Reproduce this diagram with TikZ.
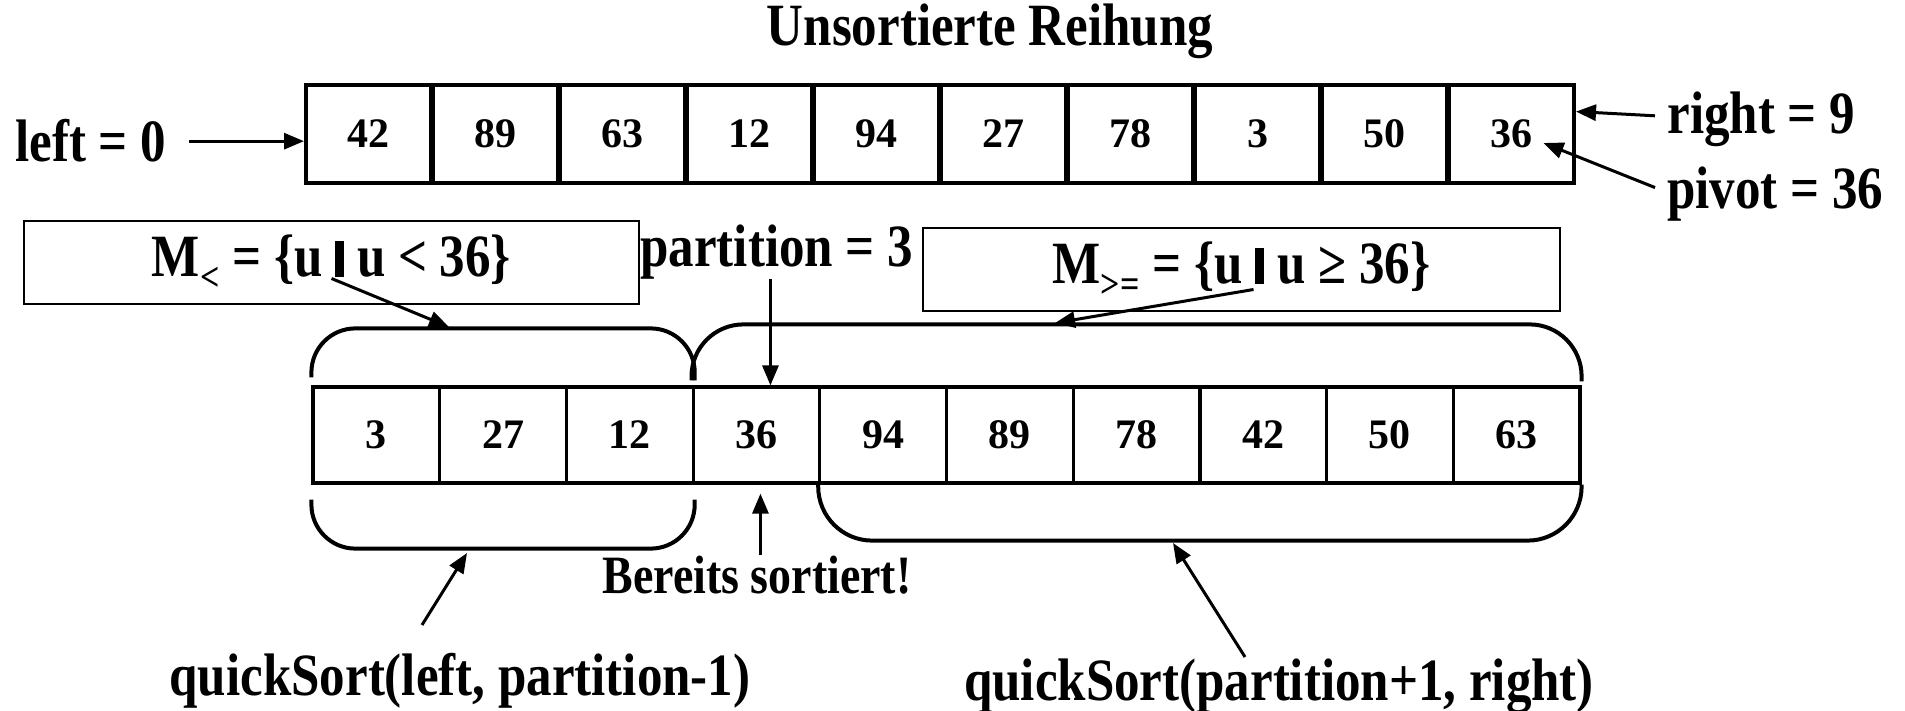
\documentclass[tikz,border=0pt]{standalone}
\usepackage{fontspec}
\setmainfont{Liberation Serif}[FakeStretch=0.85]
\newfontfamily\digitfont{Liberation Serif}
\usetikzlibrary{arrows.meta,calc}
\newcommand{\barsym}{\rule[-0.5pt]{4.5pt}{18pt}}
\newcommand{\lowsub}[1]{\raisebox{-7pt}{\fontsize{20}{20}\selectfont #1}}
\begin{document}
\begin{tikzpicture}[x=0.5pt,y=-0.5pt,
  tcell/.style={draw,line width=2pt,minimum width=62.5pt,minimum height=49pt,inner sep=0pt,
    font=\digitfont\fontsize{21}{25}\selectfont\bfseries},
  bcell/.style={draw,line width=1.6pt,minimum width=63.35pt,minimum height=48pt,inner sep=0pt,
    font=\digitfont\fontsize{21}{25}\selectfont\bfseries},
  lab/.style={inner sep=0pt,font=\fontsize{30}{36}\selectfont\bfseries},
  mbox/.style={draw,line width=1pt,minimum height=41.5pt,inner sep=0pt,
    font=\fontsize{30}{36}\selectfont\bfseries},
  arr/.style={line width=1.5pt,-{Triangle[length=10pt,width=8pt]}},
  brk/.style={line width=2pt}]
\useasboundingbox (0,0) rectangle (1905,711);

\node[lab,anchor=base] (title) at (990,46) {Unsortierte Reihung};

\foreach \v [count=\i from 0] in {42,89,63,12,94,27,78,3,50,36}
  \node[tcell] (t\i) at ({368.5+127*\i},134) {\v};
\foreach \v [count=\i from 0] in {3,27,12,36,94,89,78,42,50,63}
  \node[bcell] (b\i) at ({376.35+126.7*\i},435) {\v};

% left / right / pivot
\node[lab,anchor=base west] (lft) at (15,162) {left = 0};
\draw[arr] ([xshift=11pt]lft.east) -- (lft.east -| t0.west);

\node[lab,anchor=base west] (rgt) at (1667,134) {right = 9};
\coordinate (rtip) at ($(t9.north east)!0.28!(t9.south east)$);
\draw[arr] ([xshift=-6pt,yshift=2pt]rgt.west) -- (rtip);

\node[lab,anchor=base west] (piv) at (1667,209) {pivot = 36};
\draw[arr] ([xshift=-6pt,yshift=3.5pt]piv.west) -- ([xshift=16pt,yshift=-4.5pt]t9.center);

% set boxes
\node[mbox,minimum width=307.5pt] (mlt) at (331.5,262.5) {M\lowsub{<} = \{u \barsym{} u < 36\}};
\node[mbox,minimum width=318.5pt] (mge) at (1241.5,269.5) {M\lowsub{>=} = \{u \barsym{} u ≥ 36\}};

% partition
\node[lab,anchor=base west] (part) at (640,266) {partition = 3};
\coordinate (ptip) at ([xshift=7pt]b3.north);
\draw[arr] (part.south -| ptip) -- (ptip);

% brackets
\draw[brk,rounded corners=22pt] ([yshift=4pt]b0.north west) |- ([yshift=28.5pt]b2.north east) -- ([yshift=2.5pt]b2.north east);
\draw[brk,rounded corners=26pt] ([yshift=2.5pt]b3.north west) |- ([yshift=30.5pt]b9.north east) -- ([yshift=2pt]b9.north east);
\draw[brk,rounded corners=22pt] ([yshift=-7.5pt]b0.south west) |- ([yshift=-32pt]b2.south east) -- ([yshift=-7.5pt]b2.south east);
\draw[brk,rounded corners=27pt] (b4.south west) |- ([yshift=-28pt]b9.south east) -- (b9.south east);

% arrows to brackets
\coordinate (mltTip) at (449,327);
\draw[arr] ([yshift=-8pt]mlt.center) -- (mltTip);
\coordinate (mgeTip) at (1055,323);
\draw[arr] ([xshift=6pt,yshift=-10pt]mge.center) -- (mgeTip);

% Bereits sortiert
\node[lab,font=\fontsize{27}{32}\selectfont\bfseries,anchor=base] (ber) at (757,593) {Bereits sortiert!};
\coordinate (btip) at ([xshift=2pt,yshift=-4.5pt]b3.south);
\draw[arr] (ber.north -| btip) -- (btip);

% quickSort calls
\node[lab,anchor=base] (qsl) at (460,695) {quickSort(left, partition-1)};
\coordinate (qslTail) at (422,625);
\coordinate (qslTip) at (467,553);
\draw[arr] (qslTail) -- (qslTip);

\node[lab,anchor=base] (qsr) at (1279,700) {quickSort(partition+1, right)};
\coordinate (qsrTail) at (1245,657);
\coordinate (qsrTip) at (1173,543);
\draw[arr] (qsrTail) -- (qsrTip);
\end{tikzpicture}
\end{document}
